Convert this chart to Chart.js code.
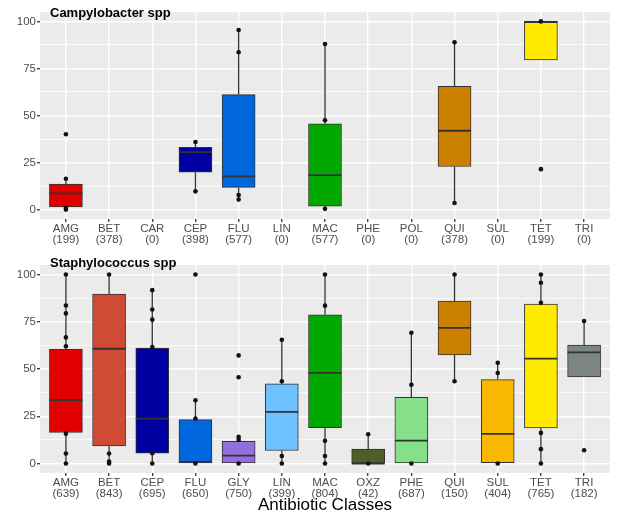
<!DOCTYPE html>
<html>
<head>
<meta charset="utf-8">
<script src="https://cdn.jsdelivr.net/npm/chart.js@4.4.1/dist/chart.umd.min.js"></script>
<style>
  html, body { margin: 0; padding: 0; background: #fff; }
  #wrap { position: relative; width: 619px; height: 515px; }
  canvas { position: absolute; left: 0; }
  #chartCampy { top: 0; }
  #chartStaph { top: 250px; }
</style>
</head>
<body>
<div id="wrap">
  <canvas id="chartCampy" width="619" height="250"></canvas>
  <canvas id="chartStaph" width="619" height="265"></canvas>
</div>
<script>
// Campylobacter spp
const campyClasses = ['AMG', 'BET', 'CAR', 'CEP', 'FLU', 'LIN', 'MAC', 'PHE', 'POL', 'QUI', 'SUL', 'TET', 'TRI'];
const campyCounts = [199, 378, 0, 398, 577, 0, 577, 0, 0, 378, 0, 199, 0];
const campyQ1 = [1.4, null, null, 19.9, 11.8, null, 1.8, null, null, 22.9, null, 79.6, null];
const campyMedian = [8.6, null, null, 30.5, 17.6, null, 18.3, null, null, 41.9, null, 99.6, null];
const campyQ3 = [13.6, null, null, 33.1, 61.1, null, 45.6, null, null, 65.5, null, 100, null];
const campyLow = [0, null, null, 9.7, 5.3, null, 0, null, null, 3.5, null, 79.6, null];
const campyHigh = [16.4, null, null, 35.9, 95.4, null, 88, null, null, 88.9, null, 100, null];
const campyPoints = [[40, 16.4, 1, 0], [], [], [35.9, 9.7], [95.4, 83.6, 7.7, 5.3], [], [88, 47.5, 0.4], [], [], [88.9, 3.5], [], [100, 21.5], []];

// Staphylococcus spp
const staphClasses = ['AMG', 'BET', 'CEP', 'FLU', 'GLY', 'LIN', 'MAC', 'OXZ', 'PHE', 'QUI', 'SUL', 'TET', 'TRI'];
const staphCounts = [639, 843, 695, 650, 750, 399, 804, 42, 687, 150, 404, 765, 182];
const staphQ1 = [16.4, 9.3, 5.5, 0, 0, 6.9, 19, 0, 0, 57.4, 0.5, 18.8, 45.8];
const staphMedian = [33.5, 60.7, 23.8, 0.9, 4.2, 27.3, 47.9, 0, 12.1, 71.7, 15.7, 55.5, 58.8];
const staphQ3 = [60.4, 89.6, 61.1, 23.2, 11.8, 42.1, 78.7, 7.6, 35, 85.9, 44.4, 84.3, 62.7];
const staphLow = [0, 0, 0, 0, 0, 0, 0, 0, 0, 43.5, 0, 0, 45.8];
const staphHigh = [100, 100, 91.7, 33.5, 14.1, 65.5, 100, 15.5, 69.2, 100, 53.3, 100, 75.4];
const staphPoints = [
  [100, 83.6, 79.4, 66.7, 62, 15.8, 5.3, 0],
  [100, 5.3, 1, 0],
  [91.7, 81.5, 76.1, 61.6, 5.5, 0],
  [100, 33.5, 23.8, 0],
  [57.2, 45.6, 14.1, 12.5, 0],
  [65.5, 43.5, 4, 0],
  [100, 83.5, 12, 4, 0],
  [15.5, 0],
  [69.2, 41.7, 0],
  [100, 43.5],
  [53.3, 47.9, 0],
  [100, 95.6, 85, 16.2, 7.6, 0],
  [75.4, 7],
];

const yTicks = [0, 12.5, 25, 37.5, 50, 62.5, 75, 87.5, 100];

const classColors = {
  AMG: '#E00000', BET: '#CF4B35', CEP: '#0000A0', FLU: '#0066DD', GLY: '#9370DB',
  LIN: '#6EC1FF', MAC: '#00A800', OXZ: '#4D5E26', PHE: '#86E08A', QUI: '#CC8000',
  SUL: '#F9B800', TET: '#FFEA00', TRI: '#7C8484', CAR: '#999', POL: '#999',
};

const FONT = "'Liberation Sans', Arial, Helvetica, sans-serif";

// fundo cinza do painel + titulo
const panelPlugin = {
  id: 'panel',
  beforeDraw(chart) {
    const { ctx, chartArea: a } = chart;
    ctx.save();
    ctx.fillStyle = '#EBEBEB';
    ctx.fillRect(a.left, a.top, a.right - a.left, a.bottom - a.top);
    ctx.restore();
  },
  afterDraw(chart, args, opts) {
    const { ctx, chartArea: a } = chart;
    ctx.save();
    ctx.font = `bold 13px ${FONT}`;
    ctx.fillStyle = '#000';
    ctx.textBaseline = 'top';
    ctx.fillText(opts.title, a.left + 10, opts.titleY);
    ctx.restore();
  },
};

// bigodes (antes das caixas) e medianas (depois das caixas)
const boxPlugin = {
  id: 'box',
  beforeDatasetsDraw(chart, args, opts) {
    const { ctx } = chart;
    const x = chart.scales.x;
    const y = chart.scales.y;
    ctx.save();
    ctx.strokeStyle = '#333';
    ctx.lineWidth = 1.3;
    opts.q1.forEach((q1, i) => {
      if (q1 === null) return;
      const px = x.getPixelForValue(i);
      ctx.beginPath();
      ctx.moveTo(px, y.getPixelForValue(opts.low[i]));
      ctx.lineTo(px, y.getPixelForValue(q1));
      ctx.moveTo(px, y.getPixelForValue(opts.q3[i]));
      ctx.lineTo(px, y.getPixelForValue(opts.high[i]));
      ctx.stroke();
    });
    ctx.restore();
  },
  afterDatasetDraw(chart, args, opts) {
    if (args.meta.type !== 'bar') return;
    const { ctx } = chart;
    const y = chart.scales.y;
    ctx.save();
    ctx.strokeStyle = '#333';
    ctx.lineWidth = 1.8;
    args.meta.data.forEach((bar) => {
      const i = bar.$context.raw.x;
      const py = y.getPixelForValue(opts.median[i]);
      ctx.beginPath();
      ctx.moveTo(bar.x - bar.width / 2, py);
      ctx.lineTo(bar.x + bar.width / 2, py);
      ctx.stroke();
    });
    ctx.restore();
  },
};

function makeChart(canvasId, cfg) {
  const { classes, counts, q1, median, q3, low, high, points } = cfg;
  const boxes = [];
  const colors = [];
  q1.forEach((v, i) => {
    if (v === null) return;
    boxes.push({ x: i, y: [v, q3[i]] });
    colors.push(classColors[classes[i]]);
  });
  const dots = [];
  points.forEach((list, i) => list.forEach((v) => dots.push({ x: i, y: v })));

  return new Chart(document.getElementById(canvasId), {
    type: 'bar',
    data: {
      datasets: [
        {
          type: 'scatter', data: dots, order: 0,
          pointRadius: 2.3, pointBackgroundColor: '#111', pointBorderWidth: 0,
        },
        {
          type: 'bar', data: boxes, order: 1,
          backgroundColor: colors, borderColor: '#333', borderWidth: 1,
          borderSkipped: false, barThickness: 33,
        },
      ],
    },
    options: {
      responsive: false,
      animation: false,
      layout: { padding: { top: cfg.padTop, right: 9, left: 0, bottom: 0 } },
      plugins: {
        legend: { display: false },
        tooltip: { enabled: false },
        panel: { title: cfg.title, titleY: cfg.titleY },
        box: { q1, q3, median, low, high },
      },
      scales: {
        x: {
          type: 'linear', min: -0.6, max: classes.length - 0.4, offset: false,
          afterBuildTicks: (s) => { s.ticks = classes.map((_, i) => ({ value: i })); },
          afterFit: (s) => { s.height = cfg.xHeight; },
          border: { display: false },
          grid: { color: '#fff', lineWidth: 1.4, offset: false, tickLength: 3, tickColor: '#444' },
          ticks: {
            autoSkip: false, maxRotation: 0, padding: 1, color: '#4D4D4D',
            font: { family: FONT, size: 11.5, lineHeight: 0.95 },
            callback: (v) => [classes[v], `(${counts[v]})`],
          },
          title: {
            display: !!cfg.xTitle, text: cfg.xTitle || '', color: '#000',
            font: { family: FONT, size: 17, lineHeight: 1.2 }, padding: { top: 0, bottom: -1 },
          },
        },
        y: {
          min: -5, max: 105,
          afterBuildTicks: (s) => { s.ticks = yTicks.map((v) => ({ value: v })); },
          afterFit: (s) => { s.width = 40; },
          border: { display: false },
          grid: {
            color: '#fff', tickLength: 3,
            lineWidth: (c) => (c.tick && c.tick.value % 25 === 0 ? 1.4 : 0.7),
            tickColor: (c) => (c.tick && c.tick.value % 25 === 0 ? '#444' : 'rgba(0,0,0,0)'),
          },
          ticks: {
            padding: 1, color: '#4D4D4D', font: { family: FONT, size: 11.5 },
            callback: (v) => (v % 25 === 0 ? v : ''),
          },
        },
      },
    },
    plugins: [panelPlugin, boxPlugin],
  });
}

makeChart('chartCampy', {
  title: 'Campylobacter spp', titleY: 7, padTop: 12, xHeight: 31,
  classes: campyClasses, counts: campyCounts, q1: campyQ1, median: campyMedian,
  q3: campyQ3, low: campyLow, high: campyHigh, points: campyPoints,
});

makeChart('chartStaph', {
  title: 'Staphylococcus spp', titleY: 7, padTop: 15, xHeight: 42, xTitle: 'Antibiotic Classes',
  classes: staphClasses, counts: staphCounts, q1: staphQ1, median: staphMedian,
  q3: staphQ3, low: staphLow, high: staphHigh, points: staphPoints,
});
</script>
</body>
</html>
